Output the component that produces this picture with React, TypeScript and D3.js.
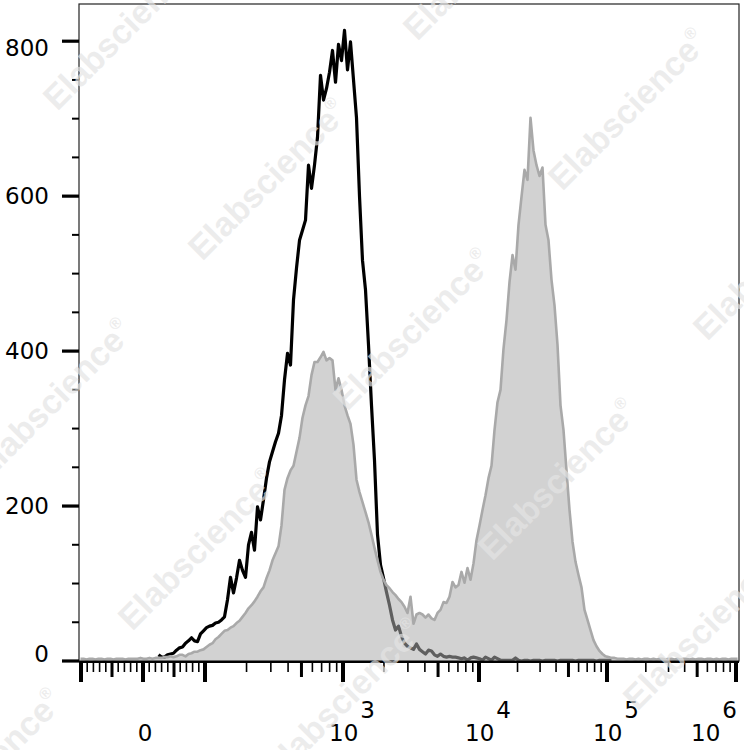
import { useRef, useEffect } from 'react'
import * as d3 from 'd3'

// Histograms are stored as event counts per display channel (220 channels across the x axis)
const CHANNELS = 220

// unstained / isotype (black line), first nonzero channel
const blackStart = 26
const blackCounts = [
  8, 5, 5, 8, 9, 10, 14, 17, 18, 23,
  26, 30, 26, 25, 35, 39, 43, 45, 46, 49,
  50, 53, 57, 79, 108, 88, 107, 130, 117, 108,
  150, 166, 143, 199, 182, 208, 236, 257, 270, 283,
  294, 317, 363, 397, 382, 466, 507, 543, 556, 569,
  640, 610, 640, 676, 756, 724, 739, 760, 788, 747,
  796, 775, 814, 763, 799, 750, 701, 600, 517, 479,
  408, 330, 259, 163, 124, 107, 89, 72, 53, 40,
  45, 32, 23, 19, 17, 15, 22, 15, 12, 9,
  14, 13, 8, 6, 9, 6, 5, 6, 5, 5,
  4, 3, 4, 1, 4, 5, 4, 3, 1, 5,
  3, 1, 5, 3, 1, 1, 1, 1, 1, 4,
  1, 0, 1, 1, 0, 1, 1, 1, 0, 1,
  1, 1, 1, 0, 1, 1, 1, 1, 1, 0,
  1, 1, 1, 1, 1, 1, 0, 1, 1, 1,
  1, 1,
]

// stained sample (grey filled), from channel 0
const greyCounts = [
  3, 3, 2, 3, 3, 2, 3, 3, 2, 3,
  3, 2, 3, 3, 3, 2, 3, 3, 3, 3,
  4, 3, 3, 4, 3, 4, 4,
  4, 5, 5, 6, 5, 6, 8, 8, 6, 9,
  10, 12, 12, 14, 15, 18, 21, 23, 28, 31,
  35, 39, 40, 43, 45, 49, 52, 57, 62, 68,
  72, 77, 83, 90, 95, 107, 117, 130, 139, 148,
  175, 221, 236, 246, 252, 270, 288, 314, 330, 342,
  369, 386, 386, 392, 399, 388, 391, 388, 350, 365,
  350, 330, 317, 306, 279, 234, 218, 205, 192, 179,
  163, 146, 130, 115, 105, 98, 94, 89, 85, 80,
  76, 70, 62, 83, 48, 60, 62, 60, 56, 60,
  55, 53, 62, 66, 76, 75, 83, 102, 95, 98,
  115, 101, 120, 105, 126, 156, 175, 195, 214, 236,
  252, 298, 334, 350, 403, 440, 489, 524, 505, 563,
  599, 634, 621, 701, 659, 640, 626, 637, 563, 543,
  492, 459, 408, 330, 298, 246, 195, 154, 128, 111,
  95, 66, 53, 40, 27, 19, 13, 9, 6, 5,
  4, 4, 3,
  3, 3, 2, 3, 3, 2, 3, 2, 3, 3,
  2, 3, 2, 3, 3, 2, 3, 3, 2, 3,
  2, 3, 3, 2, 3, 2, 3, 3, 2, 3,
  3, 2, 3, 2, 3, 3, 2, 3, 3, 3,
]

const yMajorTicks = [0, 200, 400, 600, 800]
const yMax = 848

// logicle-style x axis: linear around zero, log decades above 10^2
const linTicks = d3.range(-100, 101, 10)
const decadeLabels = [
  { value: 1e3, exp: '3' },
  { value: 1e4, exp: '4' },
  { value: 1e5, exp: '5' },
  { value: 1e6, exp: '6' },
]

const FONT = '"DejaVu Sans", Verdana, sans-serif'

export default function App() {
  const svgRef = useRef<SVGSVGElement>(null)
  const width = 744
  const height = 750

  useEffect(() => {
    if (!svgRef.current) return
    const svg = d3.select(svgRef.current)
    svg.selectAll('*').remove()

    const margin = { top: 4, right: 5, bottom: 89, left: 79 }
    const w = width - margin.left - margin.right
    const h = height - margin.top - margin.bottom

    const xc = d3.scaleLinear().domain([0, CHANNELS]).range([0, w])
    const y = d3.scaleLinear().domain([0, yMax]).range([h, 0])

    const linAxis = d3.scaleLinear().domain([-100, 100]).range([2, 126])
    const logAxis = d3.scaleLog().domain([1e2, 1e3, 1e4, 1e5, 1e6]).range([126, 264, 400, 528, 657])
    const xv = (v: number) => (v <= 100 ? linAxis(v) : logAxis(v))

    svg.append('rect').attr('width', width).attr('height', height).attr('fill', '#fff')

    const g = svg.append('g').attr('transform', `translate(${margin.left},${margin.top})`)

    svg.append('defs').append('clipPath').attr('id', 'plot-clip')
      .append('rect').attr('x', 0).attr('y', -2).attr('width', w).attr('height', h + 2)

    const plot = g.append('g').attr('clip-path', 'url(#plot-clip)')

    const black = blackCounts.map((c, i) => ({ ch: blackStart + i, c }))
    const grey = greyCounts.map((c, i) => ({ ch: i, c }))

    const line = d3.line<{ ch: number; c: number }>()
      .x((d) => xc(d.ch + 0.5))
      .y((d) => y(d.c))
    const area = d3.area<{ ch: number; c: number }>()
      .x((d) => xc(d.ch + 0.5))
      .y0(y(0))
      .y1((d) => y(d.c))

    plot.append('path').datum(black)
      .attr('d', line)
      .attr('fill', 'none')
      .attr('stroke', '#000')
      .attr('stroke-width', 3.2)
      .attr('stroke-linejoin', 'round')

    plot.append('path').datum(grey)
      .attr('d', area)
      .attr('fill', '#adadad')
      .attr('fill-opacity', 0.55)

    plot.append('path').datum(grey)
      .attr('d', line)
      .attr('fill', 'none')
      .attr('stroke', '#a9a9a9')
      .attr('stroke-width', 2.6)
      .attr('stroke-linejoin', 'round')

    // frame
    g.append('rect')
      .attr('x', 0).attr('y', 0).attr('width', w).attr('height', h)
      .attr('fill', 'none').attr('stroke', '#222').attr('stroke-width', 1.2)

    g.append('line')
      .attr('x1', 0).attr('x2', w).attr('y1', h + 1).attr('y2', h + 1)
      .attr('stroke', '#000').attr('stroke-width', 2)

    // y ticks
    const yMinor = d3.range(50, yMax, 50).filter((v) => v % 200 !== 0)
    g.selectAll('.ymin').data(yMinor).join('line')
      .attr('x1', -7).attr('x2', 0)
      .attr('y1', (d) => y(d)).attr('y2', (d) => y(d))
      .attr('stroke', '#000').attr('stroke-width', 2)
    g.selectAll('.ymaj').data(yMajorTicks).join('line')
      .attr('x1', -17).attr('x2', 0)
      .attr('y1', (d) => y(d)).attr('y2', (d) => y(d))
      .attr('stroke', '#000').attr('stroke-width', 3.2)
    g.selectAll('.ylab').data(yMajorTicks).join('text')
      .attr('x', -30)
      .attr('y', (d) => y(d) + (d === 800 ? 15 : d === 0 ? 1 : 8))
      .attr('text-anchor', 'end')
      .attr('font-family', FONT)
      .attr('font-size', 23)
      .attr('fill', '#000')
      .text((d) => String(d))

    // x ticks
    type Tick = { v: number; kind: 'major' | 'mid' | 'minor' }
    const ticks: Tick[] = linTicks.map((v) => ({
      v,
      kind: v === 0 || Math.abs(v) === 100 ? 'major' : Math.abs(v) === 50 ? 'mid' : 'minor',
    }))
    for (const dec of [1e2, 1e3, 1e4, 1e5]) {
      for (let k = 2; k <= 9; k++) ticks.push({ v: k * dec, kind: k === 5 ? 'mid' : 'minor' })
      ticks.push({ v: dec * 10, kind: 'major' })
    }
    const tickLen = { major: 21, mid: 16, minor: 11 }
    const tickW = { major: 4, mid: 3, minor: 1.6 }
    g.selectAll('.xt').data(ticks).join('line')
      .attr('x1', (d) => xv(d.v)).attr('x2', (d) => xv(d.v))
      .attr('y1', h).attr('y2', (d) => h + tickLen[d.kind])
      .attr('stroke', '#000')
      .attr('stroke-width', (d) => tickW[d.kind])

    const labY = h + 80
    g.append('text')
      .attr('x', xv(0) + 2).attr('y', labY)
      .attr('text-anchor', 'middle')
      .attr('font-family', FONT).attr('font-size', 23)
      .text('0')

    decadeLabels.forEach((d) => {
      const start = Math.min(xv(d.value) - 14, w - 48)
      const t = g.append('text')
        .attr('x', start).attr('y', labY)
        .attr('font-family', FONT).attr('font-size', 23)
      t.append('tspan').text('10')
      t.append('tspan').attr('dx', 2).attr('dy', -23).text(d.exp)
    })

    // watermark
    const wm = svg.append('g').attr('pointer-events', 'none')
    for (let m = -4; m <= 5; m++) {
      for (let n = -4; n <= 5; n++) {
        const cx = 276 + 145 * m + 215 * n
        const cy = 188 + 150 * m - 220 * n
        if (cx < -160 || cx > width + 160 || cy < -160 || cy > height + 160) continue
        const t = wm.append('text')
          .attr('transform', `translate(${cx},${cy}) rotate(-45)`)
          .attr('text-anchor', 'middle')
          .attr('font-family', '"Liberation Sans", Arial, sans-serif')
          .attr('font-weight', 'bold')
          .attr('font-size', 34)
          .attr('fill', '#e4e4e4')
          .attr('fill-opacity', 0.7)
        t.append('tspan').text('Elabscience')
        t.append('tspan').attr('font-size', 16).attr('dy', -16).text('®')
      }
    }
  }, [])

  return (
    <svg
      ref={svgRef}
      width={width}
      height={height}
      style={{ position: 'fixed', left: 0, top: 0, display: 'block' }}
    />
  )
}
